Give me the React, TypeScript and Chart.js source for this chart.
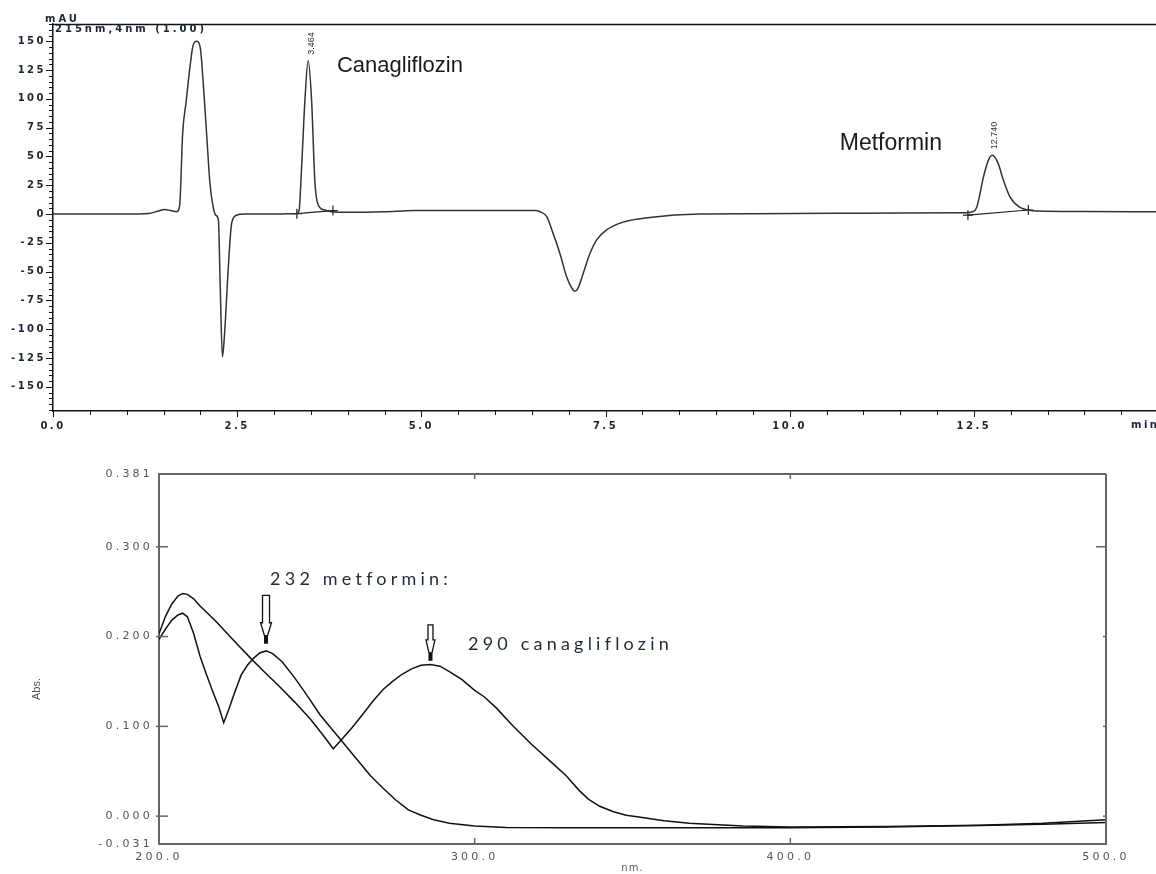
import React, { useEffect, useRef } from 'react';
import { Chart, registerables } from 'chart.js';

Chart.register(...registerables);

// ---------------- Chromatogram (top) ----------------
const CHROM_TIME_MIN = [
  0, 0.5, 1.0, 1.3, 1.42, 1.52, 1.6, 1.68, 1.72, 1.76, 1.81, 1.86, 1.9, 1.95, 2.0, 2.04, 2.09, 2.13, 2.175,
  2.21, 2.245, 2.27, 2.3, 2.33, 2.38, 2.425, 2.49, 2.6, 3.0, 3.3, 3.34, 3.375, 3.42, 3.464, 3.51, 3.556, 3.6,
  3.69, 3.78, 4.0, 4.5, 4.9, 5.5, 6.24, 6.55, 6.61, 6.7, 6.79, 6.88, 6.97, 7.04, 7.085, 7.13, 7.2, 7.29, 7.38,
  7.51, 7.74, 8.1, 8.78, 9.5, 10.6, 11.5, 12.4, 12.48, 12.54, 12.63, 12.7, 12.75, 12.83, 12.9, 12.99, 13.12,
  13.24, 13.35, 14.0, 15.0,
];
const CHROM_MAU = [
  0, 0, 0, 0.5, 2.5, 4, 3, 2, 8, 70, 99, 128, 146, 150, 144, 113, 65, 27, 6,
  -1, -5, -63, -124, -103, -46, -8, -1, 0, 0, 0.3, 3, 41, 99, 133, 99, 27, 8,
  3.5, 2, 1.5, 2, 3, 3, 3, 3, 2, -2, -17, -34, -54, -64, -67, -64, -51, -34, -22.5,
  -14, -7, -3, 0, 0.3, 0.6, 1, 1.2, 2, 6, 32, 47, 51, 44, 29.5, 15, 6,
  3.5, 2.6, 2.2, 2,
];
const BASELINE1_TIME = [3.31, 3.8];
const BASELINE1_MAU = [0.3, 3];
const BASELINE2_TIME = [12.42, 13.24];
const BASELINE2_MAU = [-1, 3.5];
const PEAK_TIMES = [3.464, 12.74];
const PEAK_HEIGHTS = [133, 51];
const PEAK_LABELS = ['3.464', '12.740'];
const CHROM_X_TICKS = [0, 2.5, 5, 7.5, 10, 12.5, 15];
const CHROM_Y_TICKS = [-150, -125, -100, -75, -50, -25, 0, 25, 50, 75, 100, 125, 150];
const CHROM_X_MINOR_STEP = 0.5;
const CHROM_Y_MINOR_STEP = 5;
const CHROM_NAMES = ['Canagliflozin', 'Metformin'];
const CHROM_NAME_TIME = [3.855, 10.68];
const CHROM_NAME_MAU = [128.4, 60.7];

// ---------------- UV spectra (bottom) ----------------
const WL_METFORMIN = [
  200, 202, 204, 206, 207.5, 209, 211, 213, 215, 217, 219, 220.5, 222, 224, 226, 228, 230, 232, 234, 236,
  239, 243, 247, 251, 255, 259, 263, 267, 271, 275, 279, 283, 287, 292, 300, 310, 330, 360, 400, 430,
  460, 480, 500,
];
const ABS_METFORMIN = [
  0.197, 0.208, 0.218, 0.224, 0.226, 0.222, 0.203, 0.178, 0.158, 0.139, 0.121, 0.104, 0.118, 0.138, 0.157,
  0.168, 0.176, 0.182, 0.184, 0.181, 0.172, 0.154, 0.134, 0.113, 0.096, 0.079, 0.062, 0.045, 0.031, 0.018,
  0.007, 0.001, -0.004, -0.008, -0.011, -0.0125, -0.013, -0.013, -0.013, -0.012, -0.0105, -0.009, -0.007,
];
const WL_CANAGLIFLOZIN = [
  200, 202, 204, 206, 207.5, 209, 211, 213, 218, 223, 229, 233, 238, 243, 248, 252, 255.2, 258, 261, 264,
  268, 271, 274, 277, 280, 283, 286, 289, 292, 296, 300, 303, 307, 312, 318, 324.6, 329, 333, 336, 339.6,
  344, 348, 352, 360, 368, 374, 385, 400, 430, 460, 480, 500,
];
const ABS_CANAGLIFLOZIN = [
  0.203, 0.222, 0.236, 0.245, 0.248, 0.247, 0.242, 0.234, 0.217, 0.198, 0.176, 0.162, 0.145, 0.127, 0.108,
  0.09, 0.075, 0.086, 0.098, 0.111, 0.129, 0.141, 0.15, 0.158, 0.164, 0.168, 0.169, 0.167, 0.161, 0.152,
  0.14, 0.133, 0.12, 0.101, 0.08, 0.059, 0.045, 0.029, 0.019, 0.011, 0.005, 0.001, -0.001, -0.005, -0.008,
  -0.009, -0.011, -0.012, -0.0115, -0.01, -0.008, -0.004,
];
const SPEC_X_TICKS = [200, 300, 400, 500];
const SPEC_Y_TICKS = [-0.031, 0, 0.1, 0.2, 0.3, 0.381];
const SPEC_ANNOT_TEXT = ['232 metformin:', '290 canagliflozin'];
const SPEC_ANNOT_WL = [235.2, 297.9];
const SPEC_ANNOT_ABS = [0.264, 0.192];
const ARROW_WL = [233.9, 286.0];
const ARROW_TOP_ABS = [0.2458, 0.213];
const ARROW_TIP_ABS = [0.192, 0.173];

const SANS = "'Liberation Sans', Arial, sans-serif";
const WIDE = "'DejaVu Sans', Verdana, sans-serif";

function seg(ctx: any, x1: number, y1: number, x2: number, y2: number) {
  ctx.beginPath();
  ctx.moveTo(x1, y1);
  ctx.lineTo(x2, y2);
  ctx.stroke();
}

const chromPlugin = {
  id: 'chromDecor',
  beforeDraw(chart: any) {
    chart.ctx.letterSpacing = '2.5px';
  },
  afterDraw(chart: any) {
    const { ctx, chartArea: ca, scales } = chart;
    const x = scales.x;
    const y = scales.y;
    ctx.letterSpacing = '0px';
    ctx.save();
    ctx.strokeStyle = '#111';
    ctx.lineWidth = 1.5;
    seg(ctx, ca.left, ca.top + 0.5, ca.right, ca.top + 0.5);
    ctx.lineWidth = 1;
    for (let v = Math.ceil(y.min / CHROM_Y_MINOR_STEP) * CHROM_Y_MINOR_STEP; v <= y.max; v += CHROM_Y_MINOR_STEP) {
      const py = Math.round(y.getPixelForValue(v)) + 0.5;
      const len = v % 25 === 0 ? 7 : 4;
      seg(ctx, ca.left - len, py, ca.left, py);
    }
    for (let t = 0; t <= x.max + 1e-9; t += CHROM_X_MINOR_STEP) {
      const px = Math.round(x.getPixelForValue(t)) + 0.5;
      const len = Math.abs(t / 2.5 - Math.round(t / 2.5)) < 1e-6 ? 6 : 4;
      seg(ctx, px, ca.bottom, px, ca.bottom + len);
    }
    // header texts and axis unit
    ctx.fillStyle = '#1c2433';
    ctx.font = `bold 10px ${WIDE}`;
    ctx.letterSpacing = '3px';
    ctx.textBaseline = 'middle';
    ctx.textAlign = 'left';
    ctx.fillText('mAU', ca.left - 8, ca.top - 5);
    ctx.fillText('215nm,4nm (1.00)', ca.left + 2, ca.top + 5.5);
    ctx.letterSpacing = '2.5px';
    ctx.fillText('min', 1131, ca.bottom + 14);
    ctx.letterSpacing = '0px';
    // peak labels (rotated)
    ctx.font = `9px ${SANS}`;
    ctx.fillStyle = '#333';
    PEAK_TIMES.forEach((t, i) => {
      const px = x.getPixelForValue(t);
      const py = y.getPixelForValue(PEAK_HEIGHTS[i]);
      ctx.save();
      ctx.translate(px + 3.5, py - 6);
      ctx.rotate(-Math.PI / 2);
      ctx.textAlign = 'left';
      ctx.textBaseline = 'middle';
      ctx.fillText(PEAK_LABELS[i], 0, 0);
      ctx.restore();
    });
    // compound names
    ctx.fillStyle = '#1a1a1a';
    ctx.textAlign = 'left';
    ctx.textBaseline = 'middle';
    CHROM_NAMES.forEach((n, i) => {
      ctx.font = `${i === 0 ? 22 : 23}px ${SANS}`;
      ctx.fillText(n, x.getPixelForValue(CHROM_NAME_TIME[i]), y.getPixelForValue(CHROM_NAME_MAU[i]));
    });
    ctx.restore();
  },
};

function drawHollowArrow(ctx: any, x: number, yTop: number, yTip: number, shaftW: number, headW: number) {
  const headLen = 13;
  const stem = 8;
  const headBase = yTip - stem - headLen;
  const headEnd = yTip - stem;
  ctx.save();
  ctx.strokeStyle = '#111';
  ctx.fillStyle = '#fff';
  ctx.lineWidth = 1.3;
  ctx.beginPath();
  ctx.moveTo(x - shaftW / 2, yTop);
  ctx.lineTo(x + shaftW / 2, yTop);
  ctx.lineTo(x + shaftW / 2, headBase);
  ctx.lineTo(x + headW / 2, headBase);
  ctx.lineTo(x + 1.5, headEnd);
  ctx.lineTo(x - 1.5, headEnd);
  ctx.lineTo(x - headW / 2, headBase);
  ctx.lineTo(x - shaftW / 2, headBase);
  ctx.closePath();
  ctx.fill();
  ctx.stroke();
  ctx.fillStyle = '#111';
  ctx.fillRect(x - 2, headEnd, 4, stem);
  ctx.restore();
}

const specPlugin = {
  id: 'specDecor',
  beforeDraw(chart: any) {
    chart.ctx.letterSpacing = '3.2px';
  },
  afterDraw(chart: any) {
    const { ctx, chartArea: ca, scales } = chart;
    const x = scales.x;
    const y = scales.y;
    ctx.letterSpacing = '0px';
    ctx.save();
    ctx.strokeStyle = '#666';
    ctx.lineWidth = 2;
    seg(ctx, ca.left, ca.top, ca.right, ca.top);
    seg(ctx, ca.right, ca.top, ca.right, ca.bottom);
    ctx.lineWidth = 1.5;
    SPEC_X_TICKS.forEach((v) => {
      if (v === x.min || v === x.max) return;
      const px = x.getPixelForValue(v);
      seg(ctx, px, ca.bottom, px, ca.bottom - 6);
      seg(ctx, px, ca.top, px, ca.top + 5);
    });
    SPEC_Y_TICKS.forEach((v) => {
      if (v === y.min || v === y.max) return;
      const py = y.getPixelForValue(v);
      seg(ctx, ca.left - 3, py, ca.left + 9, py);
      seg(ctx, ca.right - (v === 0.3 ? 10 : 3), py, ca.right, py);
    });
    // axis titles
    ctx.fillStyle = '#555';
    ctx.font = `10px ${WIDE}`;
    ctx.textAlign = 'center';
    ctx.textBaseline = 'middle';
    ctx.letterSpacing = '1px';
    ctx.fillText('nm.', (ca.left + ca.right) / 2, ca.bottom + 24);
    ctx.letterSpacing = '0px';
    ctx.save();
    ctx.translate(37, (ca.top + ca.bottom) / 2 + 30);
    ctx.rotate(-Math.PI / 2);
    ctx.font = `11px ${SANS}`;
    ctx.fillText('Abs.', 0, 0);
    ctx.restore();
    // arrows
    ARROW_WL.forEach((wl, i) => {
      drawHollowArrow(
        ctx,
        x.getPixelForValue(wl),
        y.getPixelForValue(ARROW_TOP_ABS[i]),
        y.getPixelForValue(ARROW_TIP_ABS[i]),
        i === 0 ? 7 : 5,
        i === 0 ? 11 : 9,
      );
    });
    // annotations
    ctx.fillStyle = '#1f2a38';
    ctx.font = `18px Lato, ${SANS}`;
    ctx.letterSpacing = '4.2px';
    ctx.textAlign = 'left';
    ctx.textBaseline = 'middle';
    SPEC_ANNOT_TEXT.forEach((t, i) => {
      ctx.fillText(t, x.getPixelForValue(SPEC_ANNOT_WL[i]), y.getPixelForValue(SPEC_ANNOT_ABS[i]));
    });
    ctx.letterSpacing = '0px';
    ctx.restore();
  },
};

export default function App() {
  const topRef = useRef<HTMLCanvasElement>(null);
  const botRef = useRef<HTMLCanvasElement>(null);

  useEffect(() => {
    const chrom = new Chart(topRef.current as HTMLCanvasElement, {
      type: 'line',
      data: {
        datasets: [
          {
            data: CHROM_TIME_MIN.map((t, i) => ({ x: t, y: CHROM_MAU[i] })),
            borderColor: '#333',
            borderWidth: 1.5,
            pointRadius: 0,
            cubicInterpolationMode: 'monotone',
            fill: false,
          },
          {
            data: BASELINE1_TIME.map((t, i) => ({ x: t, y: BASELINE1_MAU[i] })),
            borderColor: '#222',
            borderWidth: 1.2,
            pointStyle: 'cross',
            pointRadius: 5,
            pointBorderColor: '#222',
            pointBorderWidth: 1.2,
            fill: false,
          },
          {
            data: BASELINE2_TIME.map((t, i) => ({ x: t, y: BASELINE2_MAU[i] })),
            borderColor: '#222',
            borderWidth: 1.2,
            pointStyle: 'cross',
            pointRadius: 5,
            pointBorderColor: '#222',
            pointBorderWidth: 1.2,
            fill: false,
          },
        ],
      } as any,
      options: {
        responsive: false,
        animation: false,
        devicePixelRatio: 1,
        layout: { padding: { left: 0, top: 24, right: 22, bottom: 0 } },
        plugins: { legend: { display: false }, tooltip: { enabled: false } },
        scales: {
          x: {
            type: 'linear',
            min: 0,
            max: 15,
            grid: { display: false, drawTicks: false },
            border: { display: true, color: '#111', width: 1.5 },
            afterBuildTicks: (s: any) => {
              s.ticks = CHROM_X_TICKS.map((v) => ({ value: v }));
            },
            afterFit: (s: any) => {
              s.height = 29;
            },
            ticks: {
              autoSkip: false,
              maxRotation: 0,
              minRotation: 0,
              padding: 9,
              color: '#1c2433',
              font: { family: WIDE, size: 10, weight: 'bold' },
              callback: (v: any) => (Number(v) === 15 ? '' : Number(v).toFixed(1)),
            },
          },
          y: {
            type: 'linear',
            min: -171,
            max: 165,
            grid: { display: false, drawTicks: false },
            border: { display: true, color: '#111', width: 1.5 },
            afterBuildTicks: (s: any) => {
              s.ticks = CHROM_Y_TICKS.map((v) => ({ value: v }));
            },
            afterFit: (s: any) => {
              s.width = 53;
            },
            ticks: {
              autoSkip: false,
              padding: 7,
              color: '#1c2433',
              font: { family: WIDE, size: 10, weight: 'bold' },
              callback: (v: any) => String(v),
            },
          },
        },
      } as any,
      plugins: [chromPlugin],
    });

    const spec = new Chart(botRef.current as HTMLCanvasElement, {
      type: 'line',
      data: {
        datasets: [
          {
            data: WL_METFORMIN.map((w, i) => ({ x: w, y: ABS_METFORMIN[i] })),
            borderColor: '#111',
            borderWidth: 1.5,
            pointRadius: 0,
            tension: 0,
            fill: false,
          },
          {
            data: WL_CANAGLIFLOZIN.map((w, i) => ({ x: w, y: ABS_CANAGLIFLOZIN[i] })),
            borderColor: '#111',
            borderWidth: 1.5,
            pointRadius: 0,
            tension: 0,
            fill: false,
          },
        ],
      } as any,
      options: {
        responsive: false,
        animation: false,
        devicePixelRatio: 1,
        layout: { padding: { left: 0, top: 34, right: 50, bottom: 0 } },
        plugins: { legend: { display: false }, tooltip: { enabled: false } },
        scales: {
          x: {
            type: 'linear',
            min: 200,
            max: 500,
            grid: { display: false, drawTicks: false },
            border: { display: true, color: '#666', width: 2 },
            afterBuildTicks: (s: any) => {
              s.ticks = SPEC_X_TICKS.map((v) => ({ value: v }));
            },
            afterFit: (s: any) => {
              s.height = 30;
            },
            ticks: {
              autoSkip: false,
              maxRotation: 0,
              minRotation: 0,
              padding: 7,
              color: '#555',
              font: { family: WIDE, size: 11 },
              callback: (v: any) => Number(v).toFixed(1),
            },
          },
          y: {
            type: 'linear',
            min: -0.031,
            max: 0.381,
            grid: { display: false, drawTicks: false },
            border: { display: true, color: '#666', width: 2 },
            afterBuildTicks: (s: any) => {
              s.ticks = SPEC_Y_TICKS.map((v) => ({ value: v }));
            },
            afterFit: (s: any) => {
              s.width = 159;
            },
            ticks: {
              autoSkip: false,
              padding: 6,
              color: '#555',
              font: { family: WIDE, size: 11 },
              callback: (v: any) => Number(v).toFixed(3),
            },
          },
        },
      } as any,
      plugins: [specPlugin],
    });

    return () => {
      chrom.destroy();
      spec.destroy();
    };
  }, []);

  return (
    <div
      style={{
        position: 'absolute',
        left: 0,
        top: 0,
        width: 1156,
        height: 874,
        overflow: 'hidden',
        background: '#fff',
      }}
    >
      <canvas
        ref={topRef}
        width={1180}
        height={440}
        style={{ position: 'absolute', left: 0, top: 0, width: 1180, height: 440, display: 'block' }}
      />
      <canvas
        ref={botRef}
        width={1156}
        height={434}
        style={{ position: 'absolute', left: 0, top: 440, width: 1156, height: 434, display: 'block' }}
      />
    </div>
  );
}
